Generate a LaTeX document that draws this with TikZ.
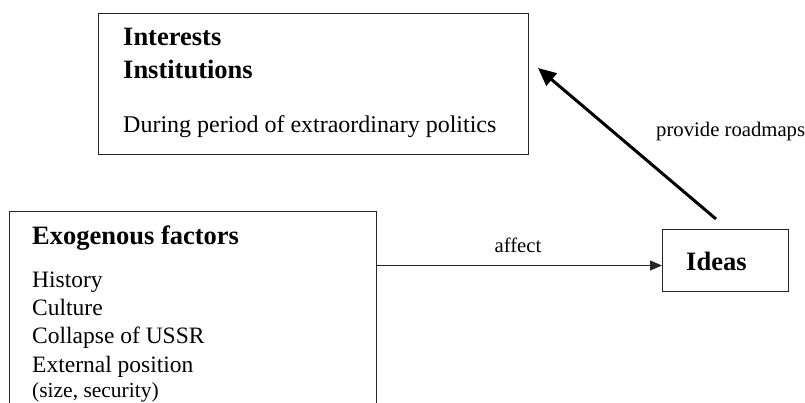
\documentclass[tikz,border=0pt]{standalone}
\usepackage{fontspec}
\setmainfont{Liberation Serif}
\usetikzlibrary{arrows.meta}
\begin{document}
\begin{tikzpicture}[x=1pt,y=-1pt,
 box/.style={draw=black!85, line width=1pt, rectangle, inner sep=0pt, anchor=north west},
 head/.style={anchor=base west, inner sep=0pt, font=\fontsize{26.5}{30}\selectfont\bfseries},
 body/.style={anchor=base west, inner sep=0pt, font=\fontsize{23.5}{28}\selectfont},
 topbody/.style={anchor=base west, inner sep=0pt, font=\fontsize{24}{28}\selectfont},
 small/.style={anchor=base west, inner sep=0pt, font=\fontsize{21.5}{26}\selectfont},
 lbl/.style={inner sep=0pt, font=\fontsize{20.7}{24}\selectfont},
 thin/.style={draw=black!85, line width=1pt, -{Triangle[length=12pt,width=10pt]}},
 thick/.style={draw=black, line width=3pt, -{Triangle[length=18pt,width=16pt]}}]
\useasboundingbox (0,0) rectangle (805,403);
\clip (0,0) rectangle (805,403);
% top box
\node[box, minimum width=430pt, minimum height=141pt] (top) at (98,13) {};
\node[head] (interests) at (123,46) {Interests};
\node[head] (institutions) at (123,79) {Institutions};
\node[topbody] (during) at (123,133) {During period of extraordinary politics};
% exogenous box
\node[box, minimum width=367pt, minimum height=260pt] (exo) at (9,211) {};
\node[head] (exohead) at (32,244) {Exogenous factors};
\node[body] (history) at (32,287) {History};
\node[body] (culture) at (32,315) {Culture};
\node[body] (collapse) at (32,343) {Collapse of USSR};
\node[body] (external) at (32,372) {External position};
\node[small] (size) at (32,397) {(size, security)};
% ideas box
\node[box, minimum width=126pt, minimum height=62pt] (ideas) at (662,229) {};
\node[head] (ideastext) at (686,270) {Ideas};
% connectors
\coordinate (aend) at ([yshift=-5pt]ideas.west);
\draw[thin] (exo.east |- aend) -- (aend);
\node[lbl, anchor=base] (affect) at (518,252) {affect};
\coordinate (rs) at (716,219);
\coordinate (re) at (538,68);
\draw[thick] (rs) -- (re);
\node[lbl, anchor=base west] (roadmaps) at (656,137) {provide roadmaps};
\end{tikzpicture}
\end{document}
